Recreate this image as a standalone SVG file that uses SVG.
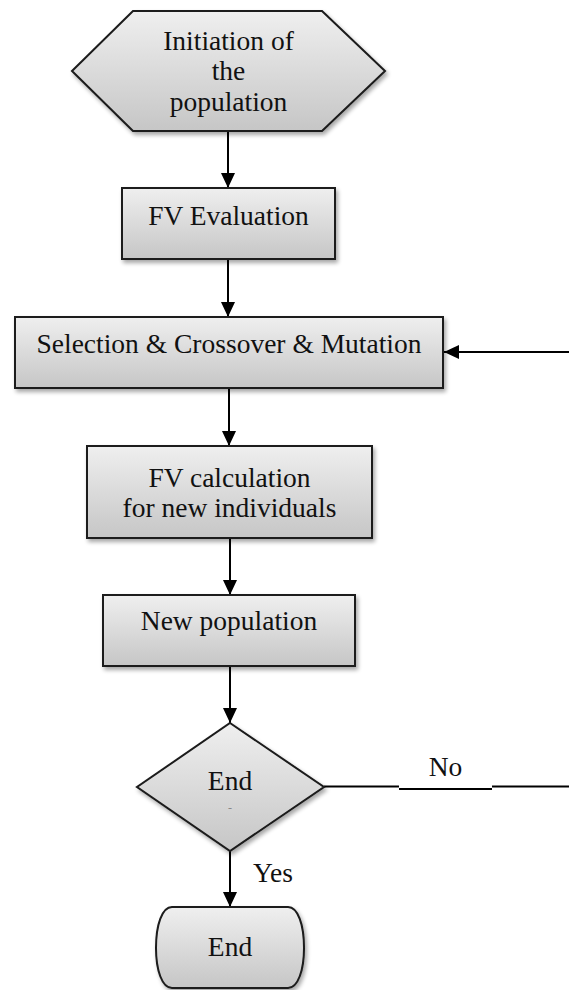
<svg xmlns="http://www.w3.org/2000/svg" width="569" height="990" viewBox="0 0 569 990">
<style>
.shape{fill:url(#grad);stroke:#1a1a1a;stroke-width:2;filter:url(#shadow);}
.lbl{font-family:"Liberation Serif","Times New Roman",serif;font-size:27.5px;fill:#111;text-anchor:middle;}
.conn{stroke:#000;stroke-width:2;fill:none;}
</style>
<defs>
<linearGradient id="grad" x1="0" y1="0" x2="0" y2="1">
<stop offset="0" stop-color="#efefef"/>
<stop offset="1" stop-color="#c6c6c6"/>
</linearGradient>
<filter id="shadow" x="-10%" y="-10%" width="125%" height="130%">
<feGaussianBlur in="SourceAlpha" stdDeviation="2"/>
<feOffset dx="2" dy="3" result="b"/>
<feComponentTransfer><feFuncA type="linear" slope="0.35"/></feComponentTransfer>
<feMerge><feMergeNode/><feMergeNode in="SourceGraphic"/></feMerge>
</filter>
<marker id="arrow" markerUnits="userSpaceOnUse" markerWidth="16" markerHeight="16" refX="15" refY="7" orient="auto">
<path d="M0,0 L15,7 L0,14 z" fill="#000"/>
</marker>
</defs>
<rect width="569" height="990" fill="#fff"/>

<g id="connectors">
<line class="conn" x1="228" y1="131" x2="228" y2="188" marker-end="url(#arrow)"/>
<line class="conn" x1="228" y1="259" x2="228" y2="317" marker-end="url(#arrow)"/>
<line class="conn" x1="229" y1="388" x2="229" y2="446" marker-end="url(#arrow)"/>
<line class="conn" x1="230" y1="538" x2="230" y2="595" marker-end="url(#arrow)"/>
<line class="conn" x1="230" y1="666" x2="230" y2="723" marker-end="url(#arrow)"/>
<line class="conn" x1="230" y1="851" x2="230" y2="907" marker-end="url(#arrow)"/>
<line class="conn" x1="569" y1="352" x2="444" y2="352" marker-end="url(#arrow)"/>
<line class="conn" x1="324" y1="786.5" x2="399" y2="786.5"/>
<line class="conn" x1="399" y1="789" x2="492" y2="789"/>
<line class="conn" x1="492" y1="786.5" x2="569" y2="786.5"/>
<text class="lbl" x="445.5" y="776">No</text>
<text class="lbl" x="273" y="882">Yes</text>
</g>

<g id="start">
<polygon class="shape" points="72,71 133,11 322,11 385,71 322,131 133,131"/>
<text class="lbl" x="228.5" y="49.5">Initiation of</text>
<text class="lbl" x="228.5" y="80">the</text>
<text class="lbl" x="228.5" y="110.5">population</text>
</g>

<g id="fv-evaluation">
<rect class="shape" x="122" y="188" width="213" height="71"/>
<text class="lbl" x="228.5" y="224.5">FV Evaluation</text>
</g>

<g id="selection">
<rect class="shape" x="15" y="317" width="428" height="71"/>
<text class="lbl" x="229" y="353">Selection &amp; Crossover &amp; Mutation</text>
</g>

<g id="fv-calculation">
<rect class="shape" x="87" y="446" width="285" height="92"/>
<text class="lbl" x="229.5" y="487">FV calculation</text>
<text class="lbl" x="229.5" y="517">for new individuals</text>
</g>

<g id="new-population">
<rect class="shape" x="103" y="595" width="252" height="71"/>
<text class="lbl" x="229" y="630">New population</text>
</g>

<g id="decision">
<polygon class="shape" points="230,723 324,787 230,851 137,787"/>
<text class="lbl" x="230" y="790">End</text>
<text x="230" y="812" font-family="Liberation Serif, serif" font-size="12" fill="#888" text-anchor="middle">-</text>
</g>

<g id="end">
<path class="shape" d="M172,907 L288,907 C298,907 304,925 304,948 C304,970 298,988 288,988 L172,988 C162,988 156,970 156,948 C156,925 162,907 172,907 Z"/>
<text class="lbl" x="230" y="956">End</text>
</g>
</svg>
